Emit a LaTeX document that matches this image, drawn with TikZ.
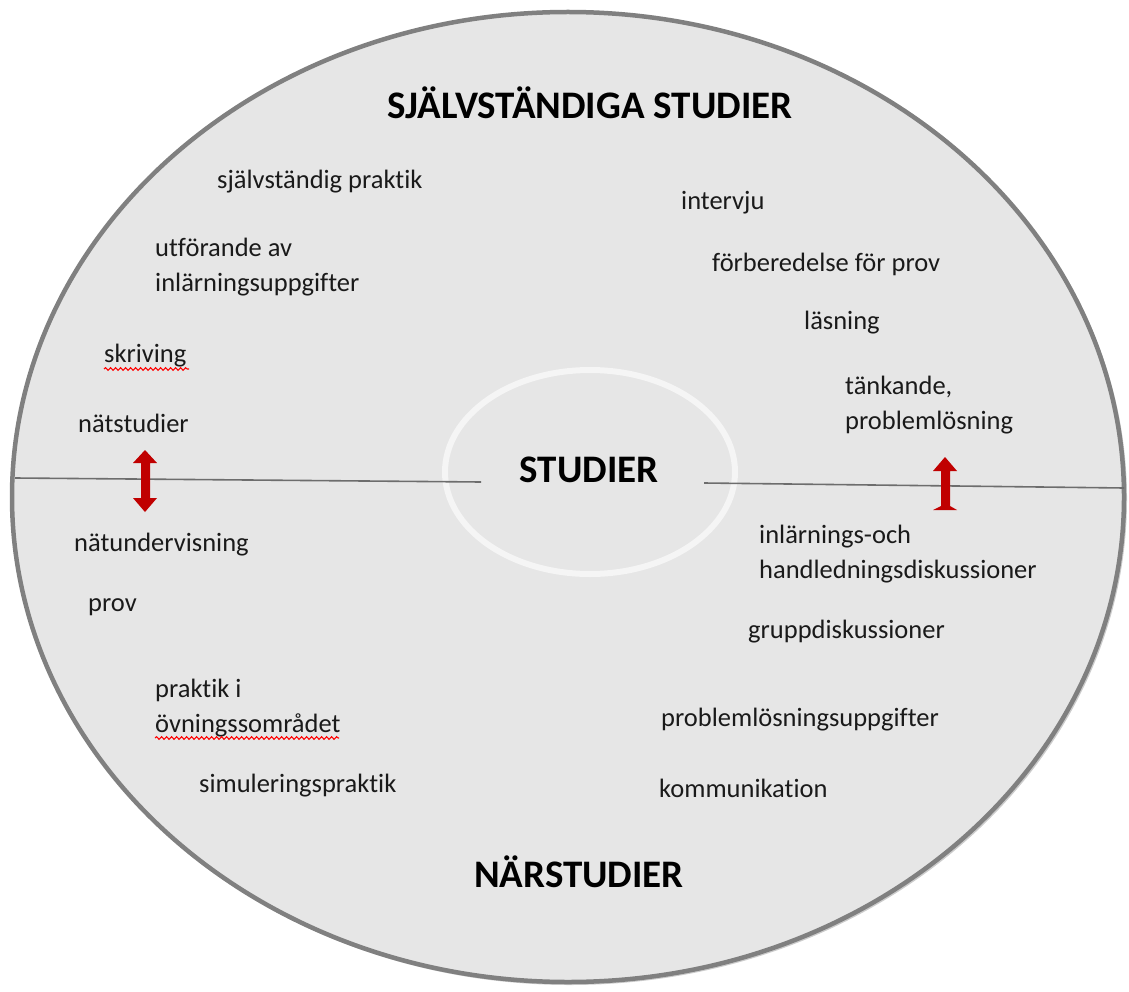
\documentclass[tikz,border=0pt]{standalone}
\usepackage{fontspec}
\setmainfont{Carlito}[RawFeature=-liga]
\usetikzlibrary{decorations.pathmorphing}
\definecolor{discfill}{HTML}{E6E6E6}
\definecolor{discedge}{HTML}{808080}
\definecolor{arrowred}{HTML}{C00000}
\definecolor{txt}{HTML}{1A1A1A}
\tikzset{
  item/.style={anchor=west, inner sep=0pt, align=left, text=txt,
    font=\fontsize{26.5}{35}\selectfont},
  heading/.style={inner sep=0pt, text=black,
    font=\fontsize{39}{46}\selectfont\bfseries},
  divider/.style={draw=discedge!85!black, line width=1.6pt},
  spell/.style={draw=red, line width=1.1pt,
    decorate, decoration={snake, amplitude=1.3pt, segment length=5pt}},
  redarrow/.style={fill=arrowred, draw=none}
}
\begin{document}
\begin{tikzpicture}[x=1pt,y=-1pt]
\useasboundingbox (0,0) rectangle (1129,992);
% outer disc with soft shadow
\fill[black!40, opacity=0.5] (570,499) ellipse [x radius=557, y radius=486];
\filldraw[fill=discfill, draw=discedge, line width=4.5pt] (568,497) ellipse [x radius=556, y radius=485];
% inner ring
\draw[white, opacity=0.6, line width=6pt] (590,472) ellipse [x radius=145, y radius=102];
\node[heading] (centre) at (589,470) {STUDIER};
% dividers
\coordinate (lstart) at (15,478);
\coordinate (lend) at (481,482);
\coordinate (rstart) at (704,483);
\coordinate (rend) at (1124,488);
\draw[divider] (lstart) -- (lend);
\draw[divider] (rstart) -- (rend);
% headings
\node[heading] (top) at (590,103) {SJÄLVSTÄNDIGA STUDIER};
\node[heading] (bottom) at (579,872) {NÄRSTUDIER};
% upper left
\node[item] (a1) at (217,182) {självständig praktik};
\node[item] (a2) at (155,267) {utförande av\\inlärningsuppgifter};
\node[item] (a3) at (104,356) {skriving};
\node[item] (a4) at (78,423) {nätstudier};
% upper right
\node[item] (b1) at (681,203) {intervju};
\node[item] (b2) at (712,264) {förberedelse för prov};
\node[item] (b3) at (804,323) {läsning};
\node[item] (b4) at (845,405) {tänkande,\\problemlösning};
% lower left
\node[item] (c1) at (74,545) {nätundervisning};
\node[item] (c2) at (88,607) {prov};
\node[item] (c3) at (155,708) {praktik i\\övningssområdet};
\node[item] (c4) at (199,786) {simuleringspraktik};
% lower right
\node[item] (d1) at (759,554) {inlärnings-och\\handledningsdiskussioner};
\node[item] (d2) at (748,632) {gruppdiskussioner};
\node[item] (d3) at (661,720) {problemlösningsuppgifter};
\node[item] (d4) at (659,788) {kommunikation};
% spelling marks
\draw[spell] (104,369) -- (189,369);
\draw[spell] (155,738) -- (339,738);
% red arrows
\fill[redarrow] (145,450) -- (157,463) -- (150,463) -- (150,498) -- (157,498)
  -- (145,512) -- (133,498) -- (141,498) -- (141,463) -- (133,463) -- cycle;
\fill[redarrow] (945,457) -- (957,471) -- (950,471) -- (950,506) -- (957,510)
  -- (933,510) -- (941,506) -- (941,471) -- (933,471) -- cycle;
\end{tikzpicture}
\end{document}
